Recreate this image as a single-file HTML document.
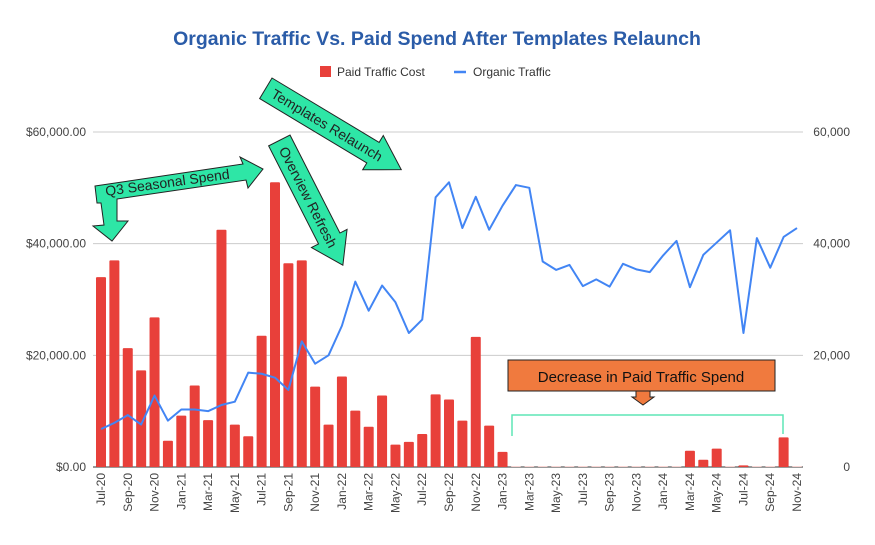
<!DOCTYPE html>
<html><head><meta charset="utf-8"><style>
body{margin:0;background:#fff;font-family:"Liberation Sans",sans-serif}
svg text{font-family:"Liberation Sans",sans-serif}
</style></head><body>
<svg id="chart" width="875" height="540" xmlns="http://www.w3.org/2000/svg">
<text x="437" y="45" text-anchor="middle" font-size="19.5" font-weight="bold" fill="#2b5ca8">Organic Traffic Vs. Paid Spend After Templates Relaunch</text>
<g>
<rect x="320" y="66" width="11" height="11" fill="#e8403a"/>
<text x="337" y="76" font-size="12" fill="#333">Paid Traffic Cost</text>
<line x1="454" y1="72" x2="466" y2="72" stroke="#4285f4" stroke-width="2.5"/>
<text x="473" y="76" font-size="12" fill="#333">Organic Traffic</text>
</g>
<g id="grid"></g><g id="bars"></g><g id="line"></g><g id="xlabels"></g>
<g>
<g>
<polygon points="95,186 243,164 240,157 263,169 248,188 246,180 117,199 117,221 128,221 112,241 93,226 104,225 101,203 97,203" fill="#2ee6a6" stroke="#222" stroke-width="1"/>
<text x="106" y="196" font-size="14" fill="#222" transform="rotate(-8 106 196)">Q3 Seasonal Spend</text>
</g>
<g transform="translate(290,135) rotate(63)">
<polygon points="0,0 110,0 110,-8 140,12 110,32 110,24 0,24" fill="#2ee6a6" stroke="#222" stroke-width="1"/>
<text x="8" y="17" font-size="14" fill="#222">Overview Refresh</text>
</g>
<g transform="translate(272,78) rotate(31)">
<polygon points="0,0 125,0 125,-8 158,12 125,32 125,24 0,24" fill="#2ee6a6" stroke="#222" stroke-width="1"/>
<text x="8" y="17" font-size="14" fill="#222">Templates Relaunch</text>
</g>
<g>
<rect x="508" y="360" width="267" height="31" fill="#f07a3e" stroke="#222" stroke-width="1"/>
<polygon points="636,391 650,391 650,397 654,397 643,405 632,397 636,397" fill="#f07a3e" stroke="#222" stroke-width="1"/>
<text x="641" y="382" text-anchor="middle" font-size="15" fill="#111">Decrease in Paid Traffic Spend</text>
<polyline points="512,436 512,415 783,415 783,434" fill="none" stroke="#5ee6b6" stroke-width="1.5"/>
</g>
</g>
</svg>
<script>
const months=["Jul-20","Aug-20","Sep-20","Oct-20","Nov-20","Dec-20","Jan-21","Feb-21","Mar-21","Apr-21","May-21","Jun-21","Jul-21","Aug-21","Sep-21","Oct-21","Nov-21","Dec-21","Jan-22","Feb-22","Mar-22","Apr-22","May-22","Jun-22","Jul-22","Aug-22","Sep-22","Oct-22","Nov-22","Dec-22","Jan-23","Feb-23","Mar-23","Apr-23","May-23","Jun-23","Jul-23","Aug-23","Sep-23","Oct-23","Nov-23","Dec-23","Jan-24","Feb-24","Mar-24","Apr-24","May-24","Jun-24","Jul-24","Aug-24","Sep-24","Oct-24","Nov-24"];
const paidCost=[34000,37000,21300,17300,26800,4700,9200,14600,8400,42500,7600,5500,23500,51000,36500,37000,14400,7600,16200,10100,7200,12800,4000,4500,5900,13000,12100,8300,23300,7400,2700,100,100,100,100,100,100,100,100,100,100,100,100,100,2900,1300,3300,100,300,100,100,5300,100];
const organic=[6800,7900,9300,7600,12800,8300,10300,10300,10000,11100,11700,16900,16700,16000,13800,22500,18500,20000,25300,33200,28000,32500,29500,24000,26400,48300,51000,42800,48400,42500,46800,50500,50000,36800,35300,36200,32400,33600,32300,36400,35400,34900,37900,40500,32200,38000,40200,42400,24000,41000,35700,41200,42800];
const leftTicks=["$0.00","$20,000.00","$40,000.00","$60,000.00"];
const rightTicks=["0","20,000","40,000","60,000"];
const tickVals=[0,20000,40000,60000];
const NS="http://www.w3.org/2000/svg";
const x0=101,x1=797,yb=467,yt=132;
const xs=i=>x0+i*(x1-x0)/(months.length-1);
const ys=v=>yb-(v/60000)*(yb-yt);
function mk(t,a,p){const e=document.createElementNS(NS,t);for(const k in a)e.setAttribute(k,a[k]);p.appendChild(e);return e;}
const grid=document.getElementById('grid');
tickVals.forEach((v,i)=>{
 const l=mk('line',{x1:93,x2:803,y1:ys(v),y2:ys(v),stroke:i==0?'#333':'#ccc','stroke-width':1},grid);
 
 
 const t=mk('text',{x:86,y:ys(v)+4,'text-anchor':'end','font-size':12,fill:'#444'},grid);t.textContent=leftTicks[i];
 
 
 const r=mk('text',{x:850,y:ys(v)+4,'text-anchor':'end','font-size':12,fill:'#444'},grid);r.textContent=rightTicks[i];
 
 
});
const bars=document.getElementById('bars');
paidCost.forEach((v,i)=>{
 const h=yb-ys(v);
 const b=mk('rect',{x:xs(i)-5,y:ys(v),width:10,height:h,fill:v<=100?'#f2a8a4':'#e8403a',rx:1},bars);
 
 
});
const line=document.getElementById('line');
const p=mk('polyline',{points:organic.map((v,i)=>xs(i)+','+ys(v)).join(' '),fill:'none',stroke:'#4285f4','stroke-width':2,'stroke-linejoin':'round'},line);


const xl=document.getElementById('xlabels');
months.forEach((m,i)=>{if(i%2)return;
 const t=mk('text',{x:0,y:0,'text-anchor':'end','font-size':12,fill:'#444',transform:`translate(${xs(i)+4},${473}) rotate(-90)`},xl);t.textContent=m;
 
 
});
</script>
</body></html>
